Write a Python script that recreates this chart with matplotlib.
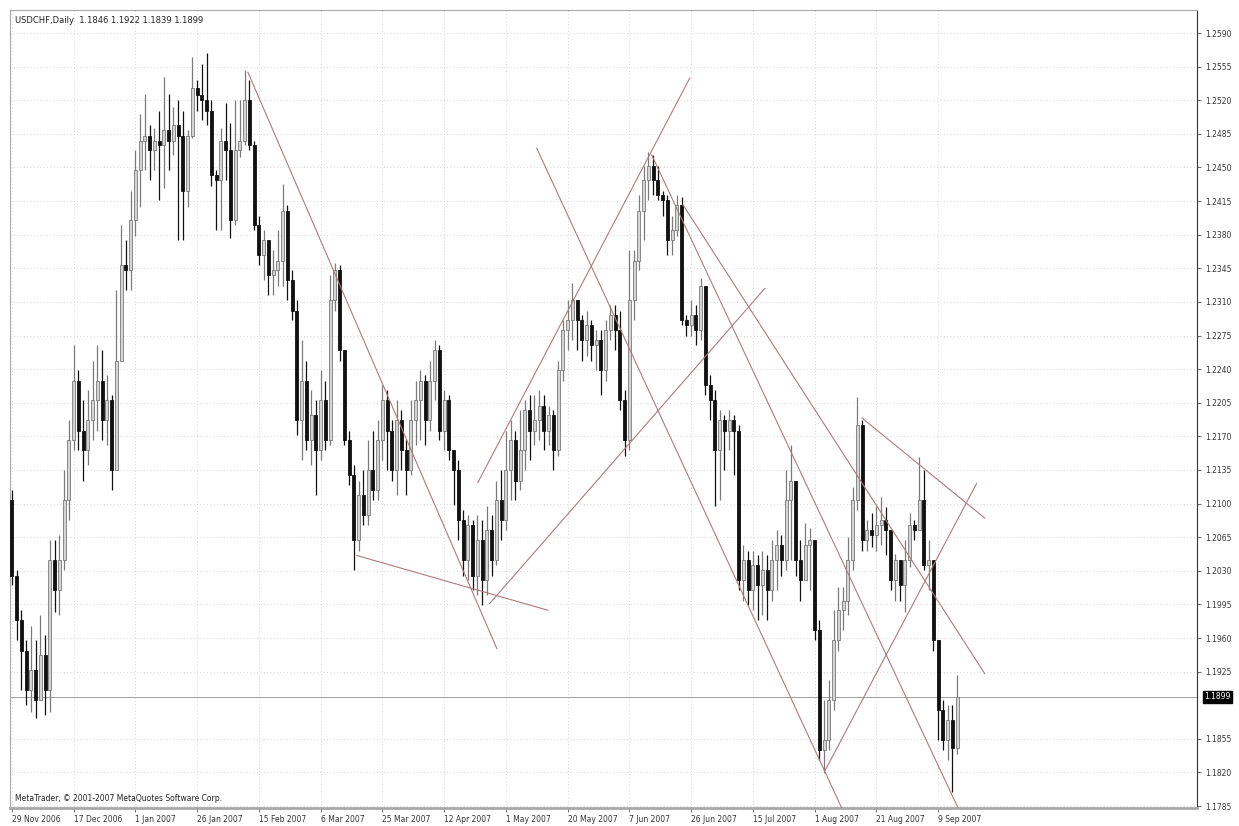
import matplotlib
matplotlib.use('Agg')
import matplotlib.pyplot as plt
import numpy as np

# USDCHF daily bars (open of each bar = previous close)
first_open = 1.2104
closes = [
    1.2025, 1.1979, 1.1947, 1.1906, 1.1927, 1.1895, 1.1942, 1.1906, 1.2041, 1.2010,
    1.2041, 1.2104, 1.2166, 1.2228, 1.2176, 1.2156, 1.2187, 1.2208, 1.2228, 1.2187,
    1.2208, 1.2135, 1.2249, 1.2348, 1.2343, 1.2395, 1.2447, 1.2478, 1.2483, 1.2468,
    1.2478, 1.2473, 1.2489, 1.2478, 1.2494, 1.2483, 1.2426, 1.2483, 1.2533, 1.2525,
    1.2520, 1.2509, 1.2442, 1.2437, 1.2478, 1.2468, 1.2395, 1.2468, 1.2478, 1.2520,
    1.2473, 1.2390, 1.2359, 1.2374, 1.2338, 1.2343, 1.2353, 1.2405, 1.2333, 1.2301,
    1.2187, 1.2228, 1.2166, 1.2192, 1.2156, 1.2208, 1.2166, 1.2312, 1.2343, 1.2260,
    1.2166, 1.2130, 1.2062, 1.2109, 1.2088, 1.2135, 1.2114, 1.2166, 1.2208, 1.2176,
    1.2135, 1.2187, 1.2156, 1.2135, 1.2187, 1.2208, 1.2228, 1.2187, 1.2228, 1.2260,
    1.2176, 1.2208, 1.2156, 1.2135, 1.2083, 1.2041, 1.2078, 1.2025, 1.2062, 1.2020,
    1.2072, 1.2041, 1.2104, 1.2083, 1.2135, 1.2166, 1.2124, 1.2156, 1.2197, 1.2176,
    1.2187, 1.2202, 1.2176, 1.2192, 1.2156, 1.2239, 1.2281, 1.2291, 1.2312, 1.2291,
    1.2270, 1.2286, 1.2265, 1.2270, 1.2239, 1.2281, 1.2296, 1.2281, 1.2208, 1.2166,
    1.2312, 1.2353, 1.2405, 1.2437, 1.2452, 1.2437, 1.2421, 1.2416, 1.2374, 1.2385,
    1.2411, 1.2291, 1.2286, 1.2296, 1.2281, 1.2327, 1.2223, 1.2208, 1.2156, 1.2187,
    1.2176, 1.2187, 1.2176, 1.2020, 1.2041, 1.2010, 1.2036, 1.2015, 1.2031, 1.2010,
    1.2041, 1.2057, 1.2041, 1.2104, 1.2124, 1.2041, 1.2020, 1.2057, 1.2062, 1.1968,
    1.1843, 1.1854, 1.1895, 1.1958, 1.1989, 1.1999, 1.2041, 1.2104, 1.2182, 1.2062,
    1.2072, 1.2067, 1.2078, 1.2083, 1.2072, 1.2020, 1.2041, 1.2015, 1.2041, 1.2078,
    1.2072, 1.2104, 1.2036, 1.2041, 1.1958, 1.1885, 1.1854, 1.1875, 1.1846, 1.1899,
]
highs = [
    1.2114, 1.2031, 1.1989, 1.1958, 1.1973, 1.1958, 1.1984, 1.1963, 1.2062, 1.2062,
    1.2067, 1.2135, 1.2187, 1.2265, 1.2239, 1.2208, 1.2218, 1.2249, 1.2265, 1.2260,
    1.2234, 1.2213, 1.2322, 1.2390, 1.2374, 1.2426, 1.2468, 1.2506, 1.2527, 1.2494,
    1.2491, 1.2509, 1.2544, 1.2527, 1.2513, 1.2520, 1.2509, 1.2489, 1.2565, 1.2541,
    1.2558, 1.2569, 1.2520, 1.2447, 1.2491, 1.2517, 1.2496, 1.2520, 1.2520, 1.2551,
    1.2541, 1.2478, 1.2400, 1.2385, 1.2369, 1.2364, 1.2385, 1.2433, 1.2411, 1.2343,
    1.2312, 1.2270, 1.2249, 1.2218, 1.2208, 1.2239, 1.2228, 1.2338, 1.2351, 1.2348,
    1.2260, 1.2176, 1.2140, 1.2124, 1.2135, 1.2166, 1.2176, 1.2187, 1.2223, 1.2218,
    1.2187, 1.2208, 1.2197, 1.2166, 1.2208, 1.2228, 1.2239, 1.2234, 1.2249, 1.2270,
    1.2265, 1.2218, 1.2213, 1.2150, 1.2145, 1.2093, 1.2088, 1.2083, 1.2088, 1.2083,
    1.2098, 1.2088, 1.2124, 1.2135, 1.2176, 1.2187, 1.2176, 1.2197, 1.2208, 1.2213,
    1.2213, 1.2218, 1.2213, 1.2202, 1.2197, 1.2249, 1.2291, 1.2312, 1.2330, 1.2312,
    1.2296, 1.2301, 1.2291, 1.2281, 1.2281, 1.2291, 1.2307, 1.2307, 1.2301, 1.2218,
    1.2364, 1.2364, 1.2421, 1.2452, 1.2466, 1.2463, 1.2452, 1.2426, 1.2421, 1.2400,
    1.2421, 1.2419, 1.2296, 1.2312, 1.2307, 1.2335, 1.2327, 1.2234, 1.2218, 1.2197,
    1.2192, 1.2197, 1.2192, 1.2182, 1.2057, 1.2051, 1.2051, 1.2046, 1.2051, 1.2046,
    1.2062, 1.2072, 1.2067, 1.2135, 1.2161, 1.2124, 1.2062, 1.2080, 1.2075, 1.2041,
    1.1979, 1.1895, 1.1916, 1.1989, 1.2013, 1.2013, 1.2065, 1.2117, 1.2211, 1.2187,
    1.2083, 1.2090, 1.2098, 1.2107, 1.2096, 1.2072, 1.2048, 1.2041, 1.2062, 1.2090,
    1.2083, 1.2148, 1.2135, 1.2062, 1.2020, 1.1958, 1.1895, 1.1890, 1.1890, 1.1922,
]
lows = [
    1.2015, 1.1958, 1.1906, 1.1890, 1.1883, 1.1877, 1.1895, 1.1880, 1.1883, 1.1987,
    1.1984, 1.2031, 1.2083, 1.2156, 1.2156, 1.2124, 1.2140, 1.2166, 1.2176, 1.2166,
    1.2161, 1.2114, 1.2135, 1.2281, 1.2322, 1.2322, 1.2379, 1.2409, 1.2447, 1.2437,
    1.2447, 1.2416, 1.2429, 1.2447, 1.2463, 1.2374, 1.2374, 1.2409, 1.2481, 1.2509,
    1.2499, 1.2494, 1.2431, 1.2385, 1.2385, 1.2437, 1.2377, 1.2390, 1.2461, 1.2473,
    1.2468, 1.2385, 1.2348, 1.2333, 1.2317, 1.2317, 1.2327, 1.2327, 1.2312, 1.2291,
    1.2171, 1.2145, 1.2156, 1.2140, 1.2109, 1.2145, 1.2156, 1.2161, 1.2301, 1.2249,
    1.2161, 1.2119, 1.2031, 1.2051, 1.2078, 1.2078, 1.2104, 1.2104, 1.2145, 1.2135,
    1.2124, 1.2109, 1.2135, 1.2109, 1.2130, 1.2161, 1.2166, 1.2161, 1.2176, 1.2208,
    1.2166, 1.2156, 1.2145, 1.2099, 1.2062, 1.2025, 1.2020, 1.2010, 1.2005, 1.1994,
    1.2005, 1.2025, 1.2036, 1.2062, 1.2072, 1.2104, 1.2104, 1.2114, 1.2135, 1.2145,
    1.2161, 1.2166, 1.2156, 1.2161, 1.2135, 1.2150, 1.2228, 1.2260, 1.2270, 1.2260,
    1.2249, 1.2254, 1.2249, 1.2239, 1.2213, 1.2228, 1.2270, 1.2260, 1.2197, 1.2150,
    1.2156, 1.2291, 1.2343, 1.2374, 1.2416, 1.2421, 1.2416, 1.2400, 1.2359, 1.2359,
    1.2379, 1.2286, 1.2275, 1.2275, 1.2265, 1.2270, 1.2213, 1.2187, 1.2098, 1.2104,
    1.2135, 1.2156, 1.2130, 1.2010, 1.1999, 1.1994, 1.1989, 1.1979, 1.1984, 1.1979,
    1.1999, 1.2010, 1.2025, 1.2031, 1.2041, 1.2025, 1.1999, 1.2020, 1.2010, 1.1958,
    1.1833, 1.1819, 1.1843, 1.1885, 1.1947, 1.1968, 1.1984, 1.2031, 1.2093, 1.2051,
    1.2051, 1.2055, 1.2051, 1.2057, 1.2046, 1.2010, 1.1999, 1.1999, 1.1987, 1.2034,
    1.2062, 1.2072, 1.2031, 1.2010, 1.1947, 1.1854, 1.1843, 1.1833, 1.1800, 1.1839,
]

# trend lines drawn on the chart: (bar, price) -> (bar, price)
line_bar0 = [49.7, 72.6, 98.1, 100.6, 110.5, 134.7, 171.2, 179.0, 141.3]
line_px0 = [1.2549, 1.2046, 1.2122, 1.1996, 1.2470, 1.2463, 1.1822, 1.2189, 1.2411]
line_bar1 = [102.1, 112.8, 142.7, 158.5, 174.7, 199.2, 203.1, 204.8, 204.8]
line_px1 = [1.1949, 1.1989, 1.2543, 1.2324, 1.1783, 1.1783, 1.2121, 1.2085, 1.1923]

# axis labels
price_ticks = [1.1785, 1.1820, 1.1855, 1.1925, 1.1960, 1.1995, 1.2030, 1.2065,
               1.2100, 1.2135, 1.2170, 1.2205, 1.2240, 1.2275, 1.2310, 1.2345,
               1.2380, 1.2415, 1.2450, 1.2485, 1.2520, 1.2555, 1.2590]
date_labels = ['29 Nov 2006', '17 Dec 2006', '1 Jan 2007', '26 Jan 2007', '15 Feb 2007',
               '6 Mar 2007', '25 Mar 2007', '12 Apr 2007', '1 May 2007', '20 May 2007',
               '7 Jun 2007', '26 Jun 2007', '15 Jul 2007', '1 Aug 2007', '21 Aug 2007',
               '9 Sep 2007']
bars_per_label = 13
last_price = 1.1899
title = 'USDCHF,Daily  1.1846 1.1922 1.1839 1.1899'

closes = np.array(closes)
highs = np.array(highs)
lows = np.array(lows)
opens = np.concatenate([[first_open], closes[:-1]])
x = np.arange(len(closes))

fig = plt.figure(figsize=(12.39, 8.26), dpi=100)
ax = fig.add_axes([10 / 1239, 18 / 826, 1187 / 1239, 798 / 826])

# grid
date_ticks = np.arange(len(date_labels)) * bars_per_label
for p in price_ticks:
    ax.axhline(p, color='#c8c8c8', lw=0.6, ls=(0, (1, 3)), zorder=0)
for t in date_ticks:
    ax.axvline(t, color='#c8c8c8', lw=0.6, ls=(0, (1, 3)), zorder=0)

# current price line
ax.axhline(last_price, color='#a0a0a0', lw=0.7, zorder=1)

# candles
bull = closes >= opens
wick_col = np.where(bull, '#7a7a7a', '#111111')
ax.vlines(x, lows, highs, colors=wick_col, lw=0.9, zorder=2)
body_h = np.abs(closes - opens)
body_h = np.maximum(body_h, 0.00004)
body_b = np.minimum(opens, closes)
ax.bar(x[bull], body_h[bull], bottom=body_b[bull], width=0.62,
       color='#d4d4d4', edgecolor='#7a7a7a', lw=0.6, zorder=3)
ax.bar(x[~bull], body_h[~bull], bottom=body_b[~bull], width=0.62,
       color='#111111', edgecolor='#111111', lw=0.6, zorder=3)

# trend lines
for b0, p0, b1, p1 in zip(line_bar0, line_px0, line_bar1, line_px1):
    ax.plot([b0, b1], [p0, p1], color='#b07a7a', lw=0.8, zorder=4)

ax.set_xlim(-0.4, 249.5)
ax.set_ylim(1.1783, 1.2614)

ax.yaxis.tick_right()
ax.set_yticks(price_ticks)
ax.set_yticklabels(['%.4f' % p for p in price_ticks], fontsize=5.5, color='#333333')
ax.set_xticks(date_ticks)
ax.set_xticklabels(date_labels, fontsize=5.5, color='#333333', ha='left')
ax.tick_params(axis='both', length=3, width=0.6, color='#555555', pad=2)
ax.tick_params(axis='y', pad=3)

for side in ['top', 'left', 'bottom']:
    ax.spines[side].set_color('#a8a8a8')
ax.spines['bottom'].set_linewidth(2.0)
ax.spines['right'].set_color('#333333')
ax.spines['right'].set_linewidth(0.8)

# price label box
ax.text(1.006, last_price, '%.4f' % last_price, transform=ax.get_yaxis_transform(),
        fontsize=5.5, color='white', va='center', ha='left',
        bbox=dict(boxstyle='square,pad=0.2', fc='black', ec='black'))

ax.text(0.004, 0.993, title, transform=ax.transAxes, fontsize=6, va='top', ha='left',
        color='#222222')
ax.text(0.004, 0.006, 'MetaTrader, \u00a9 2001-2007 MetaQuotes Software Corp.',
        transform=ax.transAxes, fontsize=5.5, va='bottom', ha='left', color='#222222')

fig.savefig('out.png', dpi=100)
